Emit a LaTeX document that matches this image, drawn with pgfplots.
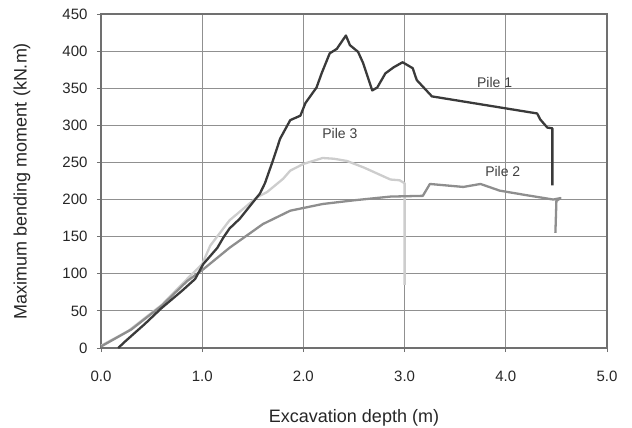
\documentclass[border=0pt]{standalone}
\usepackage{fontspec}
\setmainfont{Liberation Sans}
\usepackage{pgfplots}
\pgfplotsset{compat=1.18}
\definecolor{pileone}{HTML}{3A3A3A}
\definecolor{piletwo}{HTML}{8E8E8E}
\definecolor{pilethree}{HTML}{CDCDCD}
\definecolor{gridc}{HTML}{909090}
\definecolor{framec}{HTML}{707070}
\begin{document}
\begin{tikzpicture}
\useasboundingbox (-101bp,-80bp) rectangle (531bp,348bp);
\begin{axis}[
  at={(0,0)}, anchor=south west,
  scale only axis, width=506bp, height=334bp,
  xmin=0, xmax=5, ymin=0, ymax=450,
  xtick={0,1,2,3,4,5}, ytick={0,50,...,450},
  xticklabel style={/pgf/number format/fixed,/pgf/number format/fixed zerofill,/pgf/number format/precision=1, yshift=-16bp},
  /pgf/number format/assume math mode=true,
  yticklabel style={xshift=-6bp},
  tick label style={font=\fontsize{15bp}{18bp}\selectfont, text=black!85},
  label style={font=\fontsize{18bp}{21bp}\selectfont, text=black!85},
  xlabel={Excavation depth (m)},
  ylabel={Maximum bending moment (kN.m)},
  xlabel style={at={(axis description cs:0.5,-0.2096)}, anchor=center},
  ylabel style={at={(axis description cs:-0.156,0.5)}, anchor=center},
  grid=major, major grid style={gridc, line width=0.8bp},
  axis line style={framec, line width=1.2bp},
  tick style={framec, line width=0.8bp},
  tick align=outside, major tick length=4bp,
  xtick pos=left, ytick pos=left,
  every axis plot/.append style={line width=2.3bp, line join=round, no markers},
]
% Pile 3 (light)
\addplot[pilethree] coordinates {
(0,3) (0.27,23) (0.60,58) (0.88,97) (1.0,113) (1.08,138) (1.27,172) (1.54,203) (1.64,210) (1.80,228) (1.87,239) (2.0,248) (2.19,256) (2.3,255) (2.43,252) (2.6,243) (2.73,235) (2.86,227) (2.95,226) (3.0,222) (3.0,85)
};
% Pile 2 (medium)
\addplot[piletwo] coordinates {
(0,2) (0.3,25) (0.6,57) (0.85,90) (1.01,106) (1.27,135) (1.60,167) (1.87,185) (2.19,194) (2.5,199) (2.86,204) (3.18,205) (3.25,221) (3.58,217) (3.75,221) (3.94,212) (4.2,206) (4.47,200) (4.54,202) (4.50,198) (4.49,155)
};
% Pile 1 (dark)
\addplot[pileone] coordinates {
(0.17,0) (0.24,9) (0.43,32) (0.60,54) (0.80,77) (0.93,93) (1.01,113) (1.15,135) (1.21,149) (1.27,161) (1.37,174) (1.57,208) (1.62,222) (1.70,253) (1.77,282) (1.87,307) (1.97,313) (2.02,330) (2.13,351) (2.18,370) (2.26,397) (2.33,403) (2.42,421) (2.46,408) (2.54,399) (2.59,384) (2.68,347) (2.73,351) (2.81,370) (2.89,378) (2.98,385) (3.08,377) (3.12,361) (3.27,339) (4.31,316) (4.34,308) (4.41,297) (4.46,296) (4.46,219)
};
\node[font=\fontsize{14bp}{16bp}\selectfont, text=black!75] at (axis cs:3.89,358) {Pile 1};
\node[font=\fontsize{14bp}{16bp}\selectfont, text=black!75] at (axis cs:3.97,238) {Pile 2};
\node[font=\fontsize{14bp}{16bp}\selectfont, text=black!75] at (axis cs:2.36,289) {Pile 3};
\end{axis}
\end{tikzpicture}
\end{document}
